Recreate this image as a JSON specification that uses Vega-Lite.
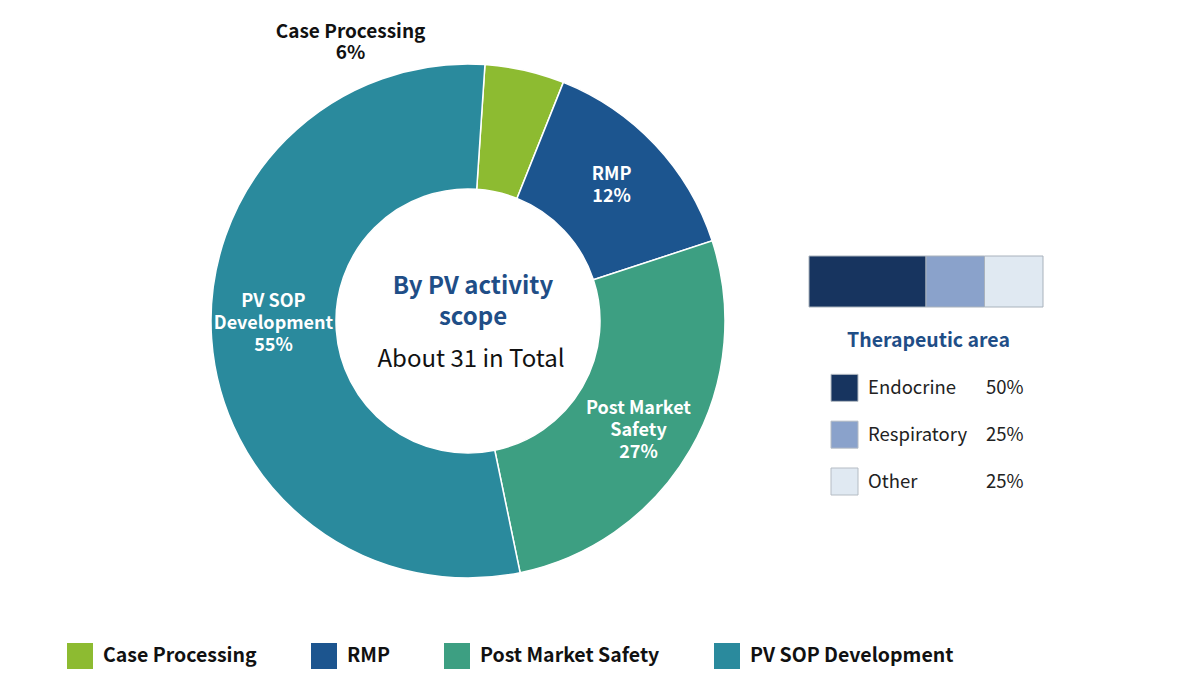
{
  "$schema": "https://vega.github.io/schema/vega-lite/v6.json",
  "width": 936,
  "height": 642,
  "autosize": {"type": "none"},
  "padding": {"left": 0, "top": 0, "right": 264, "bottom": 58},
  "background": "white",
  "config": {"view": {"stroke": null}, "font": "Noto Sans CJK SC"},
  "datasets": {
    "activity": [
      {"category": "Case Processing", "value": 5.0, "inner": "", "outer": "Case Processing\n6%"},
      {"category": "RMP", "value": 13.9, "inner": "RMP\n12%", "outer": ""},
      {"category": "Post Market Safety", "value": 26.8, "inner": "Post Market\nSafety\n27%", "outer": ""},
      {"category": "PV SOP Development", "value": 54.3, "inner": "PV SOP\nDevelopment\n55%", "outer": ""}
    ],
    "center": [{"title": "By PV activity\nscope", "subtitle": "About 31 in Total"}],
    "therapeutic": [
      {"area": "Endocrine", "share": 50, "pct": "50%"},
      {"area": "Respiratory", "share": 25, "pct": "25%"},
      {"area": "Other", "share": 25, "pct": "25%"}
    ],
    "heading": [{"heading": "Therapeutic area"}]
  },
  "layer": [
    {
      "data": {"name": "activity"},
      "encoding": {
        "theta": {"field": "value", "type": "quantitative", "stack": true, "scale": {"range": [0.066, 6.3492]}},
        "order": {"field": "value", "type": "quantitative", "sort": "ascending"}
      },
      "layer": [
        {
          "mark": {"type": "arc", "outerRadius": 257, "innerRadius": 132, "stroke": "white", "strokeWidth": 1.5},
          "encoding": {
            "color": {
              "field": "category",
              "type": "nominal",
              "sort": ["Case Processing", "RMP", "Post Market Safety", "PV SOP Development"],
              "scale": {
                "domain": ["Case Processing", "RMP", "Post Market Safety", "PV SOP Development"],
                "range": ["#8dbb31", "#1c558f", "#3d9f82", "#2a8a9d"]
              },
              "legend": {
                "orient": "none",
                "legendX": 67,
                "legendY": 643,
                "direction": "horizontal",
                "title": null,
                "symbolType": "square",
                "symbolSize": 676,
                "symbolStrokeWidth": 0,
                "symbolOpacity": 1,
                "labelFont": "Noto Sans CJK SC",
                "labelFontSize": 19.5,
                "labelFontWeight": "bold",
                "labelColor": "#111111",
                "labelOffset": 10,
                "labelLimit": 400,
                "columnPadding": 54
              }
            }
          }
        },
        {
          "mark": {"type": "text", "radius": 197, "lineBreak": "\n", "fontSize": 18, "fontWeight": "bold", "fill": "white", "lineHeight": 22, "align": "center", "baseline": "middle", "dy": -11},
          "encoding": {
            "text": {
              "condition": {"test": "datum.category === 'PV SOP Development'", "value": ""},
              "field": "inner",
              "type": "nominal"
            }
          }
        },
        {
          "mark": {"type": "text", "radius": 197, "lineBreak": "\n", "fontSize": 18, "fontWeight": "bold", "fill": "white", "lineHeight": 22, "align": "center", "baseline": "middle", "dy": -33, "dx": 2},
          "encoding": {
            "text": {
              "condition": {"test": "datum.category !== 'PV SOP Development'", "value": ""},
              "field": "inner",
              "type": "nominal"
            }
          }
        },
        {
          "mark": {"type": "text", "radius": 303, "thetaOffset": -0.621, "lineBreak": "\n", "fontSize": 19, "fontWeight": "bold", "fill": "#111111", "lineHeight": 21, "align": "center", "baseline": "middle", "dy": -10},
          "encoding": {"text": {"field": "outer", "type": "nominal"}}
        }
      ]
    },
    {
      "data": {"name": "center"},
      "layer": [
        {
          "mark": {"type": "text", "lineBreak": "\n", "fontSize": 24, "fontWeight": "bold", "fill": "#1f4e87", "lineHeight": 31, "align": "center", "baseline": "middle", "dy": -34, "dx": 5},
          "encoding": {"text": {"field": "title", "type": "nominal"}}
        },
        {
          "mark": {"type": "text", "fontSize": 24, "fill": "#111111", "align": "center", "baseline": "middle", "dy": 39, "dx": 3},
          "encoding": {"text": {"field": "subtitle", "type": "nominal"}}
        }
      ]
    },
    {
      "data": {"name": "therapeutic"},
      "mark": {"type": "bar", "stroke": "#a9b2bc", "strokeWidth": 1},
      "encoding": {
        "x": {"field": "share", "type": "quantitative", "stack": "zero", "scale": {"domain": [0, 100], "range": [809, 1043], "nice": false}, "axis": null},
        "y": {"datum": "bar", "type": "nominal", "scale": {"type": "band", "range": [256, 307], "paddingInner": 0, "paddingOuter": 0}, "axis": null},
        "color": {
          "field": "area",
          "type": "nominal",
          "scale": {"domain": ["Endocrine", "Respiratory", "Other"], "range": ["#17345f", "#8aa2cb", "#e0e9f2"]},
          "legend": null
        },
        "order": {"field": "share", "type": "quantitative", "sort": "descending"}
      }
    },
    {
      "data": {"name": "therapeutic"},
      "encoding": {
        "y": {
          "field": "area",
          "type": "nominal",
          "scale": {"type": "point", "domain": ["Therapeutic area", "Endocrine", "Respiratory", "Other"], "range": [341, 481.5], "padding": 0},
          "axis": null
        }
      },
      "layer": [
        {
          "mark": {"type": "point", "shape": "square", "size": 729, "filled": true, "opacity": 1, "stroke": "#b5bcc4", "strokeWidth": 1},
          "encoding": {
            "x": {"datum": "key", "type": "nominal", "scale": {"type": "point", "domain": ["key", "share"], "range": [844.5, 986], "padding": 0}, "axis": null},
            "color": {
              "field": "area",
              "type": "nominal",
              "scale": {"domain": ["Endocrine", "Respiratory", "Other"], "range": ["#17345f", "#8aa2cb", "#e0e9f2"]},
              "legend": null
            }
          }
        },
        {
          "mark": {"type": "text", "align": "left", "baseline": "middle", "dx": 23.5, "fontSize": 18.5, "fill": "#222222"},
          "encoding": {
            "x": {"datum": "key", "type": "nominal"},
            "text": {"field": "area", "type": "nominal"}
          }
        },
        {
          "mark": {"type": "text", "align": "left", "baseline": "middle", "fontSize": 18.5, "fill": "#222222"},
          "encoding": {
            "x": {"datum": "share", "type": "nominal"},
            "text": {"field": "pct", "type": "nominal"}
          }
        },
        {
          "data": {"name": "heading"},
          "mark": {"type": "text", "align": "left", "baseline": "middle", "dx": 2.5, "fontSize": 19.5, "fontWeight": "bold", "fill": "#1f4e87"},
          "encoding": {
            "x": {"datum": "key", "type": "nominal"},
            "y": {"field": "heading", "type": "nominal"},
            "text": {"field": "heading", "type": "nominal"}
          }
        }
      ]
    }
  ],
  "resolve": {"scale": {"x": "independent", "y": "independent", "color": "independent"}}
}
